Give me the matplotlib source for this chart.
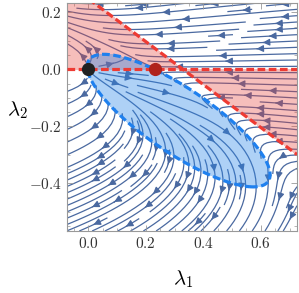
import numpy as np
import matplotlib
matplotlib.use("Agg")
import matplotlib.pyplot as plt
from matplotlib.ticker import FixedLocator, FuncFormatter, MultipleLocator

plt.rcParams['mathtext.fontset'] = 'cm'
plt.rcParams['font.family'] = 'DejaVu Serif'

# ---- data ----
xlim = (-0.076, 0.726)
ylim = (-0.568, 0.233)
xticks = [0.0, 0.2, 0.4, 0.6]
yticks = [-0.4, -0.2, 0.0, 0.2]

# fixed points
fp_source = (0.0, 0.0)
fp_saddle = (0.232, 0.0)

# red nullcline (dlambda2/dt = 0): lambda2 = 0 and lambda1 + k*lambda2 = c0
null_c0 = 0.329
null_k = 1.326

# blue nullcline boundary points (dlambda1/dt = 0)
bnd_x = [0.0, 0.232, 0.023, 0.064, 0.11, 0.155, 0.19, 0.012, 0.051, 0.052,
         0.134, 0.238, 0.308, 0.458, 0.528, 0.586, 0.626, 0.638, 0.586,
         0.504, 0.40, 0.33, 0.262]
bnd_y = [0.0, 0.0, 0.032, 0.047, 0.049, 0.037, 0.021, -0.032, -0.096, -0.108,
         -0.201, -0.248, -0.318, -0.377, -0.40, -0.418, -0.406, -0.353, -0.272,
         -0.178, -0.119, -0.055, -0.014]

# relative speed of lambda1 vs lambda2
u_scale = 2.2

# ---- fit conic Q = x^2 + b xy + c y^2 + d x + e y + f ----
bx = np.array(bnd_x); by = np.array(bnd_y)
A = np.column_stack([bx * by, by ** 2, bx, by, np.ones_like(bx)])
coef, *_ = np.linalg.lstsq(A, -bx ** 2, rcond=None)
b, c, d, e, f = coef


def Q(x, y):
    return x ** 2 + b * x * y + c * y ** 2 + d * x + e * y + f


def G(x, y):
    return y * (null_c0 - x - null_k * y)


fig = plt.figure(figsize=(2.99, 2.93), dpi=100)
ax = fig.add_axes([66.5 / 299, 1 - 231 / 293, (297 - 66.5) / 299, (231 - 3) / 293])

xs = np.linspace(xlim[0], xlim[1], 300)
ys = np.linspace(ylim[0], ylim[1], 300)
X, Y = np.meshgrid(xs, ys)
U = -u_scale * Q(X, Y)
V = G(X, Y)

ax.streamplot(X, Y, U, V, density=1.25, color='#4a69a0', linewidth=0.9,
              arrowsize=1.0, arrowstyle='-|>', zorder=1)

# red region: dlambda2/dt > 0
ax.contourf(X, Y, V, levels=[0, 1e9], colors=['#e8453c'], alpha=0.35, zorder=2)
# blue region: dlambda1/dt > 0
ax.contourf(X, Y, U, levels=[0, 1e9], colors=['#2b87e8'], alpha=0.38, zorder=2)

# blue dashed boundary
cs = ax.contour(X, Y, U, levels=[0], colors='none')
for seg in cs.allsegs[0]:
    ax.plot(seg[:, 0], seg[:, 1], color='#1f80ee', lw=2.3,
            dashes=(2.4, 1.1), zorder=3)

# red dashed nullclines
ax.plot(xs, np.zeros_like(xs), color='#ee3b33', lw=2.3, dashes=(2.4, 1.1), zorder=4)
ax.plot(xs, (null_c0 - xs) / null_k, color='#ee3b33', lw=2.3, dashes=(2.4, 1.1), zorder=4)

ax.plot(*fp_source, 'o', color='#222222', ms=8.5, zorder=6)
ax.plot(*fp_saddle, 'o', color='#b0231c', ms=8.5, zorder=6)

ax.set_xlim(*xlim)
ax.set_ylim(*ylim)
ax.xaxis.set_major_locator(FixedLocator(xticks))
ax.yaxis.set_major_locator(FixedLocator(yticks))
ax.xaxis.set_minor_locator(MultipleLocator(0.05))
ax.yaxis.set_minor_locator(MultipleLocator(0.05))
fmt = FuncFormatter(lambda v, p: r'$%.1f$' % v if abs(v) > 1e-9 else r'$0.0$')
ax.xaxis.set_major_formatter(fmt)
ax.yaxis.set_major_formatter(fmt)
ax.tick_params(which='both', direction='in', top=True, right=True,
               color='#999999', labelsize=11, labelcolor='#333333')
ax.tick_params(which='major', length=4, width=0.6)
ax.tick_params(which='minor', length=2, width=0.5)
for s in ax.spines.values():
    s.set_color('#999999')
    s.set_linewidth(0.8)

ax.set_xlabel(r'$\lambda_1$', fontsize=15, va='center')
ax.set_ylabel(r'$\lambda_2$', fontsize=15, rotation=0, va='center', ha='center')
ax.xaxis.set_label_coords(0.505, -0.21)
ax.yaxis.set_label_coords(-0.215, 0.53)

fig.savefig('out.png', dpi=100)
